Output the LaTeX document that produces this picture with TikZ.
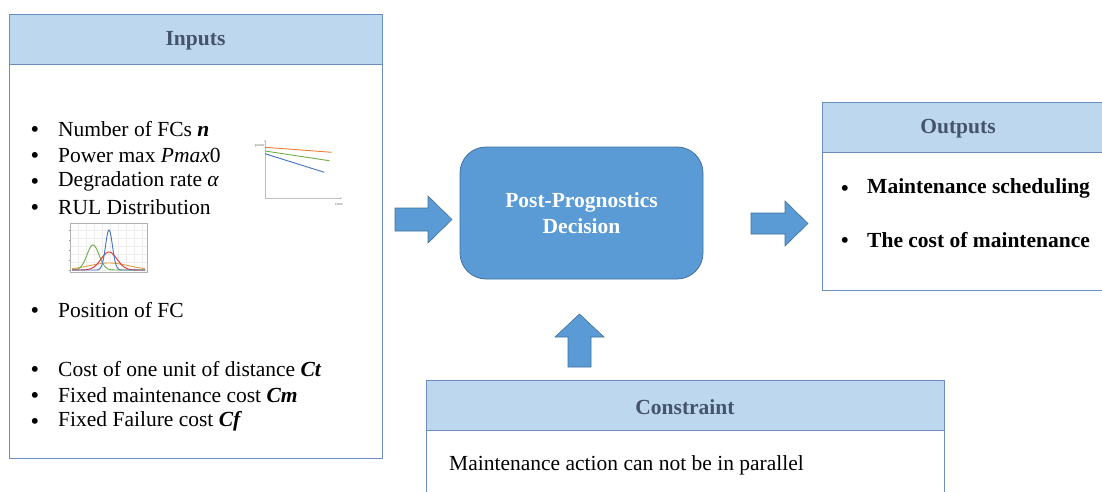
\documentclass[tikz,border=0pt]{standalone}
\usepackage{fontspec}
\setmainfont{Liberation Serif}
\definecolor{hdrfill}{HTML}{BDD7EE}
\definecolor{boxline}{HTML}{6C8EBF}
\definecolor{hdrtext}{HTML}{44546A}
\definecolor{mainblue}{HTML}{5B9BD5}
\definecolor{mainline}{HTML}{41719C}
\definecolor{cOrange}{HTML}{ED7D31}
\definecolor{cGreen}{HTML}{70AD47}
\definecolor{cBlue}{HTML}{4472C4}
\definecolor{cRed}{HTML}{E03030}
\definecolor{cGold}{HTML}{E0A040}
\tikzset{
  panel/.style={draw=boxline, line width=0.9pt, fill=white},
  panelhead/.style={draw=boxline, line width=0.9pt, fill=hdrfill},
  headtext/.style={font=\fontsize{21.5}{24}\selectfont\bfseries, text=hdrtext},
  item/.style={anchor=west, font=\fontsize{21.5}{24}\selectfont, inner sep=0pt},
  bullet/.style={anchor=center, font=\fontsize{21.5}{24}\selectfont\bfseries, inner sep=0pt},
  blockarrow/.style={draw=mainline, fill=mainblue, line width=0.6pt, line join=miter},
  tinylbl/.style={font=\fontsize{4}{5}\selectfont, text=black!60, inner sep=0pt},
}
\newcommand{\bi}[1]{\textbf{\textit{#1}}}
\begin{document}
\begin{tikzpicture}[x=1pt, y=-1pt]
\useasboundingbox (0,0) rectangle (1102,492);

% ---------- Inputs panel ----------
\draw[panel] (9,14) rectangle (382,458);
\draw[panelhead] (9,14) rectangle (382,64);
\node[headtext] (inTitle) at (195.5,41) {Inputs};

\foreach \yy in {129,155,181,207,310,369,395,421}
  \node[bullet] at (35,\yy+2) {•};
\node[item] (in1) at (58,129) {Number of FCs \bi{n}};
\node[item] (in2) at (58,155) {Power max \textit{Pmax}0};
\node[item] (in3) at (58,181) {Degradation rate \textit{α}};
\node[item] (in4) at (58,207) {RUL Distribution};
\node[item] (in5) at (58,310) {Position of FC};
\node[item] (in6) at (58,369) {Cost of one unit of distance \bi{Ct}};
\node[item] (in7) at (58,395) {Fixed maintenance cost \bi{Cm}};
\node[item] (in8) at (58,421) {Fixed Failure cost \bi{Cf}};

% power degradation sketch
\draw[black!25, line width=0.5pt] (265,141) -- (265,198) -- (341,198);
\fill[black!50] (265,141) circle (0.6pt);
\fill[black!50] (341,198) circle (0.6pt);
\node[tinylbl, anchor=east] (pwrLbl) at (265,146) {power};
\node[tinylbl] (timeLbl) at (339,204) {time};
\draw[cOrange, line width=0.9pt] (265,147.3) -- (331.7,152.3);
\draw[cGreen, line width=0.9pt] (265,151) -- (329.3,160.7);
\draw[cBlue, line width=0.9pt] (265,153.7) -- (324.3,172.3);

% RUL distribution sketch
\fill[white] (70,223.5) rectangle (147,272.5);
\foreach \gx in {78,86,...,142} \draw[black!7, line width=0.3pt] (\gx,224) -- (\gx,272);
\foreach \gy in {230,238,...,270} \draw[black!7, line width=0.3pt] (70,\gy) -- (147,\gy);
\draw[black!30, line width=0.4pt] (70,223.5) rectangle (147,272.5);
\foreach \gy in {230,240,250,260,270} \draw[black!40, line width=0.3pt] (68.5,\gy) -- (70,\gy);
\draw[cGold, line width=0.9pt, domain=72:145, samples=40]
  plot ({\x},{270-7*exp(max(-9,-((\x-109)^2)/(2*400)))});
\draw[cGreen, line width=0.9pt, domain=72:145, samples=80]
  plot ({\x},{270-25*exp(max(-9,-((\x-93)^2)/(2*36)))});
\draw[cRed, line width=0.9pt, domain=72:145, samples=80]
  plot ({\x},{270-18*exp(max(-9,-((\x-109)^2)/(2*64)))});
\draw[cBlue, line width=0.9pt, domain=72:145, samples=120]
  plot ({\x},{270-40*exp(max(-9,-((\x-109)^2)/(2*12)))});

% ---------- Decision block ----------
\node[draw=mainline, fill=mainblue, line width=0.8pt, rounded corners=26pt,
      minimum width=243pt, minimum height=132pt, align=center, text=white,
      font=\fontsize{21.5}{26}\selectfont\bfseries] (decision) at (581.5,213)
      {Post-Prognostics\\Decision};

% ---------- Outputs panel ----------
\draw[panel] (822,102) rectangle (1110,290);
\draw[panelhead] (822,102) rectangle (1110,152);
\node[headtext] (outTitle) at (958,129) {Outputs};
\node[bullet] at (845,190) {•};
\node[bullet] at (845,242) {•};
\node[item, font=\fontsize{21.5}{24}\selectfont\bfseries] (out1) at (867,188) {Maintenance scheduling};
\node[item, font=\fontsize{21.5}{24}\selectfont\bfseries] (out2) at (867,240) {The cost of maintenance};

% ---------- Constraint panel ----------
\draw[panel] (426,380) rectangle (944,500);
\draw[panelhead] (426,380) rectangle (944,430);
\node[headtext] (conTitle) at (685,407) {Constraint};
\node[item] (con1) at (449,465) {Maintenance action can not be in parallel};

% ---------- Flow arrows ----------
% inputs -> decision
\filldraw[blockarrow] (395,208) -- (428,208) -- (428,196) -- (452,219.5)
  -- (428,243) -- (428,231) -- (395,231) -- cycle;
% decision -> outputs
\filldraw[blockarrow] (751,213) -- (785,213) -- (785,201) -- (808,223.5)
  -- (785,246) -- (785,234) -- (751,234) -- cycle;
% constraint -> decision
\filldraw[blockarrow] (568,367) -- (568,337) -- (555,337) -- (579.5,314)
  -- (604,337) -- (591,337) -- (591,367) -- cycle;
\end{tikzpicture}
\end{document}
